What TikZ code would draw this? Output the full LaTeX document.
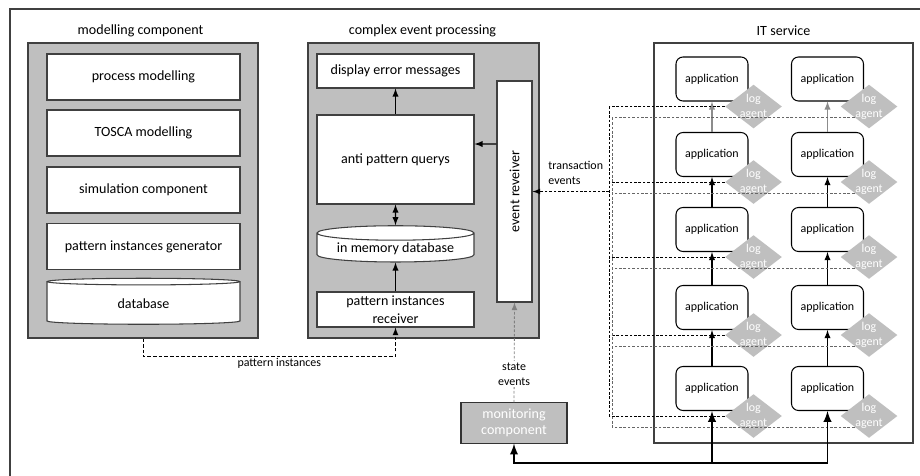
\documentclass[tikz,border=0pt]{standalone}
\usepackage{fontspec}
\setmainfont{Carlito}
\usepackage{tikz}
\usetikzlibrary{arrows, shapes.geometric}

\begin{document}
\begin{tikzpicture}
[x = 0.2mm, y = -0.2mm, line width = 0.6pt, >=latex,
 grp/.style = {rectangle, draw=black!75, fill=black!25},
 blk/.style = {rectangle, draw=black!75, fill=white, inner sep=1pt, align=center, font=\fontsize{8}{10}\selectfont},
 db/.style = {cylinder, shape border rotate=90, aspect=0.12, draw=black!75, fill=white, inner sep=1pt, font=\fontsize{8}{10}\selectfont},
 ttl/.style = {font=\fontsize{8}{10}\selectfont},
 lbl/.style = {font=\fontsize{6.8}{8.5}\selectfont, inner sep=1pt},
 app/.style = {rectangle, rounded corners=1.4mm, draw=black, fill=white, minimum width=14.4mm, minimum height=8.8mm, font=\fontsize{6.8}{8.5}\selectfont},
 agent/.style = {diamond, aspect=1.3, fill=black!25, text=white, inner sep=-1.5pt, minimum width=11.4mm, minimum height=8.8mm, align=center, font=\fontsize{6.8}{8.5}\selectfont},
 logline/.style = {dash pattern=on 1.5pt off 1pt, line width=0.5pt},
 flow/.style = {line width=1.1pt}]
\useasboundingbox (0,0) rectangle (920,475);
\clip (0,0) rectangle (920,475);
\draw[black!75] (10,9) rectangle (940,495);

% modelling component
\node[ttl] (t1) at (140.5,31) {modelling component};
\node[grp, minimum width=46mm, minimum height=59mm] (mod) at (143,190.5) {};
\node[blk, minimum width=38.6mm, minimum height=9.2mm] (m1) at (143.5,77) {process modelling};
\node[blk, minimum width=38.6mm, minimum height=9.2mm] (m2) at (143.5,133) {TOSCA modelling};
\node[blk, minimum width=38.6mm, minimum height=9.2mm] (m3) at (143.5,190) {simulation component};
\node[blk, minimum width=38.6mm, minimum height=9.2mm] (m4) at (143.5,246.5) {pattern instances generator};
\node[db, minimum width=38.6mm, minimum height=9.2mm] (m5) at (143.5,303.5) {database};

% complex event processing
\node[ttl] (t2) at (422.5,31) {complex event processing};
\node[grp, minimum width=46.2mm, minimum height=59mm] (cep) at (423.5,190.5) {};
\node[blk, minimum width=31.4mm, minimum height=6.8mm] (disp) at (395.5,71) {display error messages};
\node[blk, minimum width=31.4mm, minimum height=17.8mm] (anti) at (395.5,159.5) {anti pattern querys};
\node[db, minimum width=31.4mm, minimum height=6.6mm] (memdb) at (395.5,248.5) {in memory database};
\node[blk, minimum width=31.4mm, minimum height=7mm] (recv) at (395.5,309.5) {pattern instances\\receiver};
\node[blk, minimum width=7mm, minimum height=44.2mm] (evrecv) at (514.5,191.5) {\rotatebox{90}{event reveiver}};

\draw[->] (anti) edge (disp) (recv) edge (memdb);
\draw[<->] (anti) -- (memdb);
\draw[->] ([yshift=9.5mm]evrecv.west) -- ([yshift=3.1mm]anti.east);

\draw[logline, dash pattern=on 2pt off 1.2pt, ->] (mod.south) -- ++(0,18) -| node[lbl, pos=0.27, below] {pattern instances} (recv.south);

% monitoring
\node[grp, draw=black!80, text=white, align=center, minimum width=21.2mm, minimum height=8mm, font=\fontsize{8}{9.4}\selectfont] (mon) at (514,423) {monitoring\\component};
\draw[logline, black!50, ->] (mon.north) -- node[lbl, pos=0.28, fill=white, text=black, align=center] {state\\events} (evrecv.south);

% IT service
\node[ttl] (t3) at (783.5,31) {IT service};
\node[rectangle, draw=black!75, fill=white, minimum width=51.8mm, minimum height=80mm] (its) at (783.5,243) {};

\node[app] (a11) at (712,79) {application};
\node[app] (a12) at (827.5,79) {application};
\node[app] (a21) at (712,154.5) {application};
\node[app] (a22) at (827.5,154.5) {application};
\node[app] (a31) at (712,229.5) {application};
\node[app] (a32) at (827.5,229.5) {application};
\node[app] (a41) at (712,307.5) {application};
\node[app] (a42) at (827.5,307.5) {application};
\node[app] (a51) at (712,388.5) {application};
\node[app] (a52) at (827.5,388.5) {application};

\draw[->, black!45] (a21) edge (a11) (a22) edge (a12);
\draw[->] (a31) edge (a21) (a32) edge (a22) (a41) edge (a31) (a42) edge (a32) (a51) edge (a41) (a52) edge (a42);

\node[agent] (l11) at ([shift={(1mm,-1mm)}]a11.south east) {log\\agent};
\node[agent] (l12) at ([shift={(1mm,-1mm)}]a12.south east) {log\\agent};
\node[agent] (l21) at ([shift={(1mm,-1mm)}]a21.south east) {log\\agent};
\node[agent] (l22) at ([shift={(1mm,-1mm)}]a22.south east) {log\\agent};
\node[agent] (l31) at ([shift={(1mm,-1mm)}]a31.south east) {log\\agent};
\node[agent] (l32) at ([shift={(1mm,-1mm)}]a32.south east) {log\\agent};
\node[agent] (l41) at ([shift={(1mm,-1mm)}]a41.south east) {log\\agent};
\node[agent] (l42) at ([shift={(1mm,-1mm)}]a42.south east) {log\\agent};
\node[agent] (l51) at ([shift={(1mm,-1mm)}]a51.south east) {log\\agent};
\node[agent] (l52) at ([shift={(1mm,-1mm)}]a52.south east) {log\\agent};

% transaction events
\coordinate (bx) at (609,0);
\coordinate (by) at (612,0);
\draw[logline] (l11.west) -- (l11.west -| bx) (l21.west) -- (l21.west -| bx) (l31.west) -- (l31.west -| bx) (l41.west) -- (l41.west -| bx) (l51.west) -- (l51.west -| bx);
\draw[logline] (l11.west -| bx) -- (l51.west -| bx);
\draw[logline, black!60] (l12.south west) -- (l12.south west -| by) (l22.south west) -- (l22.south west -| by) (l32.south west) -- (l32.south west -| by) (l42.south west) -- (l42.south west -| by) (l52.south west) -- (l52.south west -| by);
\draw[logline, black!60] (l12.south west -| by) -- (l52.south west -| by);
\draw[logline, ->] (evrecv.east -| bx) -- node[lbl, above=1mm, xshift=1mm, align=left] {transaction\\events} (evrecv.east);

\draw[flow, <->] (mon.south) -- ++(0,19) coordinate (b0) -| (a52.south);
\draw[flow, ->] (b0 -| a51.south) -- (a51.south);

\end{tikzpicture}
\end{document}
